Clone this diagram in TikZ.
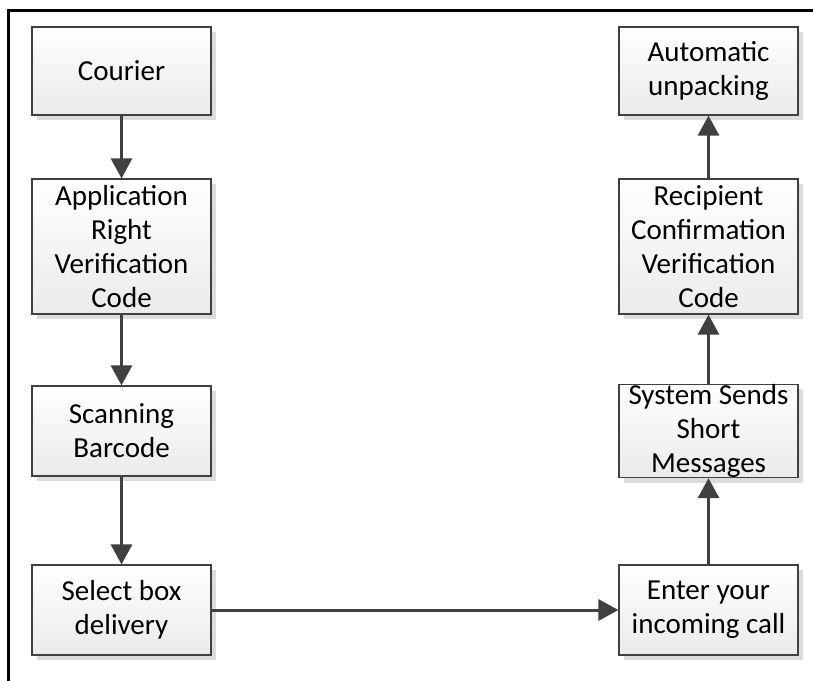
\documentclass[tikz,border=0pt]{standalone}
\usepackage{fontspec}
\setmainfont{Carlito}
\usetikzlibrary{shadows,arrows.meta}
\definecolor{edge}{HTML}{404040}
\definecolor{shad}{HTML}{DCDCDC}
\tikzset{
  box/.style={draw=edge, line width=1.2pt, top color=white, bottom color=black!8,
    minimum width=179pt, inner sep=0pt, align=center,
    font=\fontsize{29}{34}\selectfont,
    drop shadow={shadow xshift=5pt, shadow yshift=-5pt, fill=shad, opacity=1}},
  flow/.style={draw=edge, line width=3pt, -{Triangle[length=20pt,width=21pt]}}
}
\begin{document}
\begin{tikzpicture}[x=1pt,y=-1pt]
\useasboundingbox (0,0) rectangle (813,680);
\draw[line width=3pt] (8,690) -- (8,10) -- (820,10);
\node[box, minimum height=88pt] (cour) at (121.5,71) {Courier};
\node[box, minimum height=135pt] (appl) at (121.5,246.5) {Application\\Right\\Verification\\Code};
\node[box, minimum height=90pt] (scan) at (121.5,431) {Scanning\\Barcode};
\node[box, minimum height=90pt] (sel) at (121.5,610) {Select box\\delivery};
\node[box, minimum height=88pt] (auto) at (708.5,71) {Automatic\\unpacking};
\node[box, minimum height=135pt] (reci) at (708.5,246.5) {Recipient\\Confirmation\\Verification\\Code};
\node[box, minimum height=90pt] (sys) at (708.5,431) {System Sends\\Short\\Messages};
\node[box, minimum height=90pt] (ent) at (708.5,610) {Enter your\\incoming call};
\draw[flow] (cour) -- (appl);
\draw[flow] (appl) -- (scan);
\draw[flow] (scan) -- (sel);
\draw[flow] (sel) -- (ent);
\draw[flow] (ent) -- (sys);
\draw[flow] (sys) -- (reci);
\draw[flow] (reci) -- (auto);
\end{tikzpicture}
\end{document}
